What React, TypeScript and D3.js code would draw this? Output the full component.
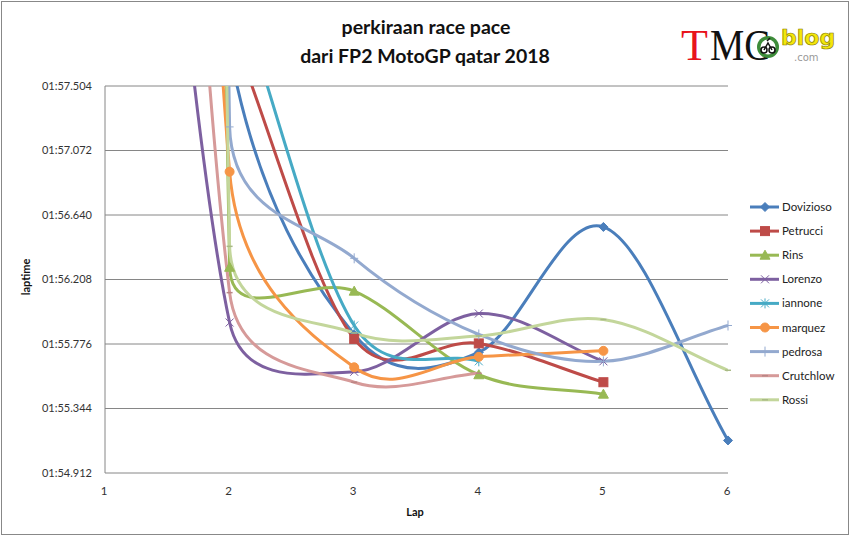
import React from 'react';
import * as d3 from 'd3';

const laps = [1, 2, 3, 4, 5, 6];
const riders = ['Dovizioso', 'Petrucci', 'Rins', 'Lorenzo', 'iannone', 'marquez', 'pedrosa', 'Crutchlow', 'Rossi'];

// lap times in seconds (1:56.560 -> 116.56); null = no lap
const dovizioso = [125.0, 117.75, 115.84, 115.72, 116.56, 115.13];
const petrucci = [null, 117.91, 115.81, 115.78, 115.52, null];
const rins = [165.0, 116.29, 116.13, 115.57, 115.44, null];
const lorenzo = [123.4, 115.92, 115.59, 115.98, 115.66, null];
const iannone = [null, 118.3, 115.9, 115.66, null, null];
const marquez = [136.0, 116.93, 115.62, 115.69, 115.73, null];
const pedrosa = [171.0, 117.23, 116.35, 115.84, 115.66, 115.9];
const crutchlow = [129.2, 116.12, 115.52, 115.58, null, null];
const rossi = [168.0, 116.43, 115.85, 115.83, 115.94, 115.6];

const yTicks = [114.912, 115.344, 115.776, 116.208, 116.64, 117.072, 117.504];
const xTicks = [1, 2, 3, 4, 5, 6];

const colors = ['#4a7ebb', '#be4b48', '#98b954', '#7d60a0', '#46aac5', '#f69546', '#93a9cf', '#d69a99', '#c3d69b'];
const markers = ['diamond', 'square', 'triangle', 'x', 'star', 'circle', 'plus', 'dash', 'dash'];
const series = [dovizioso, petrucci, rins, lorenzo, iannone, marquez, pedrosa, crutchlow, rossi];

const fmt = (v) => {
  const ms = Math.round(v * 1000);
  const m = Math.floor(ms / 60000);
  const s = (ms - m * 60000) / 1000;
  return `${String(m).padStart(2, '0')}:${s.toFixed(3).padStart(6, '0')}`;
};

const margin = { left: 105, right: 728, top: 86, bottom: 473 };
const x = d3.scaleLinear().domain([1, 6]).range([margin.left, margin.right]);
const y = d3.scaleLinear().domain([114.912, 117.504]).range([margin.bottom, margin.top]);

// Excel-style smoothed line: bezier with 1/6 tangents, capped at half the segment
const smoothPath = (pts) => {
  const p = d3.path();
  if (!pts.length) return '';
  p.moveTo(pts[0][0], pts[0][1]);
  const n = pts.length;
  for (let i = 0; i < n - 1; i++) {
    const p0 = pts[i - 1] || pts[i];
    const p1 = pts[i];
    const p2 = pts[i + 1];
    const p3 = pts[i + 2] || pts[i + 1];
    const d12 = Math.hypot(p2[0] - p1[0], p2[1] - p1[1]);
    const f1 = i === 0 ? 1 / 3 : 1 / 6;
    const f2 = i === n - 2 ? 1 / 3 : 1 / 6;
    let v1 = [(p2[0] - p0[0]) * f1, (p2[1] - p0[1]) * f1];
    let v2 = [(p3[0] - p1[0]) * f2, (p3[1] - p1[1]) * f2];
    const l1 = Math.hypot(v1[0], v1[1]);
    const l2 = Math.hypot(v2[0], v2[1]);
    if (l1 > d12 / 2) v1 = [v1[0] * d12 / 2 / l1, v1[1] * d12 / 2 / l1];
    if (l2 > d12 / 2) v2 = [v2[0] * d12 / 2 / l2, v2[1] * d12 / 2 / l2];
    p.bezierCurveTo(p1[0] + v1[0], p1[1] + v1[1], p2[0] - v2[0], p2[1] - v2[1], p2[0], p2[1]);
  }
  return p.toString();
};

const Marker = ({ type, cx, cy, color }) => {
  switch (type) {
    case 'diamond':
      return <path d={`M${cx},${cy - 4.5}L${cx + 4.5},${cy}L${cx},${cy + 4.5}L${cx - 4.5},${cy}Z`} fill={color} stroke={color} />;
    case 'square':
      return <rect x={cx - 4.5} y={cy - 4.5} width={9} height={9} fill={color} stroke={color} />;
    case 'triangle':
      return <path d={`M${cx},${cy - 5}L${cx + 5},${cy + 4}L${cx - 5},${cy + 4}Z`} fill={color} stroke={color} />;
    case 'x':
      return <path d={`M${cx - 4},${cy - 4}L${cx + 4},${cy + 4}M${cx - 4},${cy + 4}L${cx + 4},${cy - 4}`} stroke={color} strokeWidth={1} fill="none" />;
    case 'star':
      return <path d={`M${cx - 4},${cy - 4}L${cx + 4},${cy + 4}M${cx - 4},${cy + 4}L${cx + 4},${cy - 4}M${cx},${cy - 5}L${cx},${cy + 5}`} stroke={color} strokeWidth={1} fill="none" />;
    case 'circle':
      return <circle cx={cx} cy={cy} r={4.5} fill={color} stroke={color} />;
    case 'plus':
      return <path d={`M${cx - 4},${cy}L${cx + 4},${cy}M${cx},${cy - 5}L${cx},${cy + 5}`} stroke={color} strokeWidth={1} fill="none" />;
    default:
      return <path d={`M${cx - 3},${cy}L${cx + 3},${cy}`} stroke={d3.color(color).darker(0.4).toString()} strokeWidth={1.5} />;
  }
};

const App = () => {
  const font = 'Lato, "Open Sans", sans-serif';
  return (
    <svg width={851} height={537} style={{ position: 'absolute', left: 0, top: 0, background: '#fff' }} fontFamily={font}>
      <rect x={1.5} y={1.5} width={847} height={533} fill="#fff" stroke="#888" strokeWidth={1} />
      <defs>
        <clipPath id="plot">
          <rect x={margin.left} y={margin.top} width={margin.right - margin.left} height={margin.bottom - margin.top} />
        </clipPath>
      </defs>

      <text x={426} y={34} textAnchor="middle" fontSize={19.5} fontWeight="bold" fill="#111">perkiraan race pace</text>
      <text x={425} y={63} textAnchor="middle" fontSize={19.5} fontWeight="bold" fill="#111">dari FP2 MotoGP qatar 2018</text>

      {/* logo */}
      <g fontFamily='"Liberation Serif", serif'>
        <text x={681} y={60} fontSize={44} fill="#e8141c">T</text>
        <text x={710} y={60} fontSize={44} fill="#111" textLength={60} lengthAdjust="spacingAndGlyphs">MC</text>
        <circle cx={768} cy={47} r={11} fill="#3d8c3a" />
        <circle cx={768} cy={47} r={7.5} fill="#fff" />
        <circle cx={764} cy={50} r={3} fill="none" stroke="#111" strokeWidth={1.5} />
        <circle cx={772} cy={50} r={3} fill="none" stroke="#111" strokeWidth={1.5} />
        <path d="M764,50L768,43L772,50M767,41L770,38" stroke="#111" strokeWidth={1.5} fill="none" />
        <text x={781} y={45} fontSize={22} fontWeight="bold" fill="#f3e60b" stroke="#8a8000" strokeWidth={0.7} fontFamily='"DejaVu Sans", sans-serif'>blog</text>
        <text x={794} y={61} fontSize={10} fill="#999" fontFamily='"DejaVu Sans", sans-serif'>.com</text>
      </g>

      {/* grid */}
      {yTicks.map((t) => (
        <g key={t}>
          <line x1={margin.left} x2={margin.right} y1={y(t)} y2={y(t)} stroke="#868686" strokeWidth={1} />
          <text x={92} y={y(t)} dy="0.35em" textAnchor="end" fontSize={11} fill="#333">{fmt(t)}</text>
        </g>
      ))}
      <line x1={margin.left} x2={margin.left} y1={margin.top} y2={margin.bottom} stroke="#868686" />
      {xTicks.map((t) => (
        <text key={t} x={x(t) - 1} y={495} textAnchor="middle" fontSize={11.5} fill="#333">{t}</text>
      ))}
      <text x={415} y={516} textAnchor="middle" fontSize={11} fontWeight="bold" fill="#111">Lap</text>
      <text transform="translate(30,277) rotate(-90)" textAnchor="middle" fontSize={11} fontWeight="bold" fill="#111">laptime</text>

      {/* series */}
      <g clipPath="url(#plot)">
        {series.map((vals, si) => {
          const pts = vals.map((v, i) => (v == null ? null : [x(laps[i]), y(v)])).filter(Boolean);
          return <path key={si} d={smoothPath(pts)} fill="none" stroke={colors[si]} strokeWidth={3} strokeLinejoin="round" />;
        })}
      </g>
      {series.map((vals, si) => (
        <g key={si}>
          {vals.map((v, i) =>
            v == null || v > 117.504 ? null : <Marker key={i} type={markers[si]} cx={x(laps[i])} cy={y(v)} color={colors[si]} />
          )}
        </g>
      ))}

      {/* legend */}
      {riders.map((r, i) => {
        const ly = 207 + i * 24.1;
        return (
          <g key={r}>
            <line x1={750} x2={779} y1={ly} y2={ly} stroke={colors[i]} strokeWidth={3} />
            <Marker type={markers[i]} cx={765} cy={ly} color={colors[i]} />
            <text x={782} y={ly} dy="0.35em" fontSize={11.5} fill="#222">{r}</text>
          </g>
        );
      })}
    </svg>
  );
};

export default App;
